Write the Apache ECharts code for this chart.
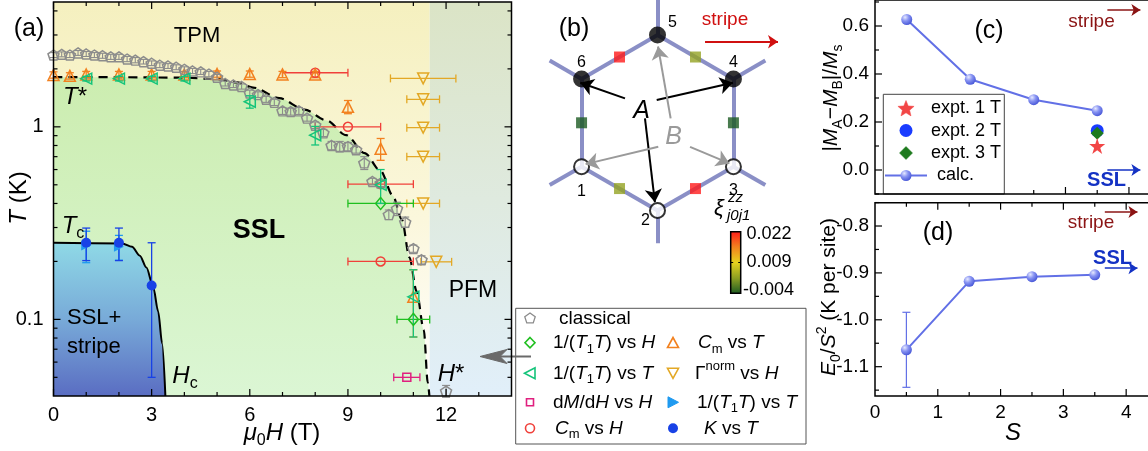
<!DOCTYPE html>
<html>
<head>
<meta charset="utf-8">
<script src="https://cdn.jsdelivr.net/npm/echarts@6/dist/echarts.min.js"></script>
<style>
html,body{margin:0;padding:0;background:#fff;}
#main{width:1148px;height:451px;}
</style>
</head>
<body>
<div id="main"></div>
<script>
// ===== (a) phase diagram: field H (T) vs temperature T (K) =====
// classical simulation, [H, T, ±T]
const classical = [
  [0,2.36,0.07],[0.25,2.38,0.07],[0.5,2.36,0.07],[0.75,2.42,0.07],[1,2.39,0.07],[1.25,2.36,0.07],
  [1.5,2.34,0.07],[1.75,2.31,0.07],[2,2.31,0.07],[2.25,2.25,0.07],[2.5,2.22,0.07],[2.75,2.18,0.06],
  [3,2.14,0.06],[3.25,2.09,0.06],[3.5,2.07,0.06],[3.75,2.04,0.06],[4,1.99,0.06],[4.25,1.95,0.06],
  [4.5,1.93,0.06],[4.75,1.88,0.06],[5,1.81,0.06],[5.25,1.68,0.05],[5.5,1.65,0.05],[5.75,1.62,0.05],
  [6,1.50,0.05],[6.25,1.47,0.05],[6.5,1.39,0.05],[6.75,1.34,0.05],[7,1.21,0.05],[7.25,1.20,0.05],
  [7.5,1.21,0.05],[7.75,1.11,0.04],[8,1.02,0.04],[8.25,0.93,0.04],[8.5,0.80,0.04],[8.75,0.79,0.05],
  [9,0.79,0.04],[9.25,0.76,0.03],[9.5,0.65,0.05],[9.75,0.52,0.02],[10,0.51,0.02],[10.25,0.35,0.02],
  [10.5,0.376,0.03],[10.75,0.32,0.02],[11,0.233,0.01],[11.25,0.204,0.01],[12,0.0424,0.003]
];
const nmrVsH   = [[10,0.40,1],[11,0.10,0.5]];                    // 1/(T1T) vs H, [H, T, ±H]
const nmrVsT   = [[1,1.78,0.05],[2,1.78,0.05],[3,1.78,0.05],[4,1.78,0.05],
                  [6,1.35,0.1],[8,0.905,0.1],[10,0.5,0.1],[11,0.131,0.05]];   // [H, T, ±T]
const dMdH     = [[10.8,0.05,0.4]];                              // [H, T, ±H]
const cmVsH    = [[8,1.91,1],[9,1.0,1],[10,0.504,1],[10,0.2,1]]; // [H, T, ±H]
const cmVsT    = [[0,1.86,0.07],[0.5,1.84,0.07],[1,1.87,0.07],[2,1.87,0.07],[3,1.87,0.07],[4,1.87,0.07],
                  [5,1.88,0.07],[6,1.88,0.07],[7,1.87,0.07],[8,1.87,0.07],[9,1.27,0.1],[10,0.77,0.1],[11,0.131,0.05]];
const gammaNorm = [[11.3,1.785,1.0],[11.3,1.39,0.5],[11.3,0.99,0.5],[11.3,0.70,0.5],[11.3,0.40,0.5],[11.7,0.199,0.47]];
const nmrLowT  = [[1,0.242,0.045],[2,0.238,0.035]];               // [H, T, ±T]
const knightT  = [[1,0.25,0.048],[2,0.25,0.048],[3,0.15,0.1]];    // [H, T, ±T]
const tStarLine = [[0,1.81],[2,1.81],[4,1.80],[5,1.77],[5.6,1.70],[6.1,1.60],[6.9,1.41],[7.67,1.23],
                   [8.34,1.08],[8.95,0.905],[9.51,0.73],[10.0,0.59],[10.37,0.44],[10.65,0.33],[10.88,0.21],
                   [11.1,0.14],[11.32,0.088],[11.44,0.047],[11.49,0.04]];
const tcLine = [[0,0.25],[2.1,0.248],[2.4,0.238],[2.64,0.214],[2.84,0.186],[3.05,0.147],[3.2,0.11],[3.32,0.075],[3.42,0.04]];
const hRange = [0, 14];
const tRange = [0.04, 4.45];
const pfmEdge = 11.5;
const aXMajor = [0,3,6,9,12], aXMinor = [1,2,4,5,7,8,10,11,13];
const aYMajor = [0.1,1], aYMinor = [0.05,0.06,0.07,0.08,0.09,0.2,0.3,0.4,0.5,0.6,0.7,0.8,0.9,2,3,4];

// ===== (b) hexagon of the lattice, sites 1..6 =====
const siteXY = [[-0.866,-0.5],[0,-1],[0.866,-0.5],[0.866,0.5],[0,1],[-0.866,0.5]];
const siteFilled = [false,false,false,true,true,true];
const siteNames = ['1','2','3','4','5','6'];
const bondPairs = [[6,5],[5,4],[4,3],[3,2],[2,1],[1,6]];
const bondXi = [0.022,0.003,-0.004,0.022,0.003,-0.004];
const xiRange = [-0.004, 0.022];
const xiTicks = [0.022, 0.009, -0.004];
const arrowsA = [[[-0.371,0.278],[-0.88,0.456]],[[-0.009,0.259],[0.86,0.456]],[[-0.143,0.05],[-0.03,-0.905]]];
const arrowsB = [[[0.15,0.05],[0.006,0.87]],[[0.009,-0.274],[-0.82,-0.471]],[[0.371,-0.274],[0.82,-0.463]]];
const stripeArrowB = [[0.542,0.924],[1.374,0.924]];

// ===== (c), (d) spin-S calculations =====
const spinS = [0.5,1.5,2.5,3.5];
const calcM = [0.627,0.378,0.293,0.247];
const expt1T = [[3.5,0.10]], expt2T = [[3.5,0.164]], expt3T = [[3.5,0.153]];
const calcE = [-1.064,-0.918,-0.908,-0.904];
const calcEErr = [0.08,0.006,0.003,0.003];
const refM = {stripe: 0.667, ssl: 0};
const refE = {stripe: -0.77, ssl: -0.89};
const refArrowS = [3.66, 4.18];
const sRange = [0, 4.3];
const mRange = [-0.1, 0.7083];
const eRange = [-1.1625, -0.7503];
const sMajor = [1,2,3,4], sMinor = [0.5,1.5,2.5,3.5];
const mMajor = [0,0.2,0.4,0.6], mMinor = [-0.1,0.1,0.3,0.5,0.7];
const eMajor = [-1.1,-1.0,-0.9,-0.8], eMinor = [-1.15,-1.05,-0.95,-0.85,-0.75];

// ---------- layout & styling ----------
const FONT = 'Arial, "Liberation Sans", Helvetica, sans-serif';
const P = {
  a: {left: 53.5, top: 2, width: 458, height: 394},
  b: {left: 517.2, top: 0, width: 280.6, height: 241.2},
  c: {left: 875, top: 0, width: 276, height: 194},
  d: {left: 875, top: 202.7, width: 276, height: 193.3}
};
const C = {
  classical: '#8c8c8c', nmrH: '#1fbf1f', nmrT: '#14c47a', dmdh: '#e0207f', cmH: '#f0403a',
  cmT: '#f2811f', gamma: '#e3a825', nmrLow: '#1f9af0', knight: '#1842e6',
  calc: '#6270e6', stripe: '#8b1414', ssl: '#1432c4', bond: '#8a8fc6'
};
const XI_COLORS = ['#1b5a22', '#8c9e22', '#e6d21e', '#f3801e', '#ff1a1a'];
const G = echarts.graphic;

function rich(fs, color) {
  const lh = Math.round(fs * 1.35), sb = Math.round(fs * 0.66);
  color = color || '#000';
  return {
    i:  {fontStyle: 'italic', fontSize: fs, fontFamily: FONT, lineHeight: lh, fill: color},
    b:  {fontWeight: 'bold', fontSize: fs, fontFamily: FONT, lineHeight: lh, fill: color},
    s:  {fontSize: sb, fontFamily: FONT, verticalAlign: 'bottom', lineHeight: sb, fill: color},
    si: {fontSize: sb, fontStyle: 'italic', fontFamily: FONT, verticalAlign: 'bottom', lineHeight: sb, fill: color},
    p:  {fontSize: sb, fontFamily: FONT, verticalAlign: 'top', lineHeight: sb, fill: color},
    pi: {fontSize: sb, fontStyle: 'italic', fontFamily: FONT, verticalAlign: 'top', lineHeight: sb, fill: color}
  };
}
function txt(x, y, text, fs, opt) {
  opt = opt || {};
  return {
    type: 'text', x: x, y: y, z: 60, rotation: opt.rot || 0, silent: true,
    style: {
      text: text, fontSize: fs, fontFamily: FONT, fill: opt.color || '#000',
      fontWeight: opt.bold ? 'bold' : 'normal', fontStyle: opt.italic ? 'italic' : 'normal',
      align: opt.align || 'center', verticalAlign: 'middle',
      lineHeight: Math.round(fs * 1.35), rich: rich(fs, opt.color)
    }
  };
}
function poly(points, stroke, fill, lw) {
  return {type: 'polygon', z: 60, silent: true, shape: {points: points},
          style: {stroke: stroke, fill: fill || 'none', lineWidth: lw || 1.5}};
}
function frame(p, z) {
  return {type: 'rect', z: z || 100, silent: true,
          shape: {x: p.left, y: p.top, width: p.width, height: p.height},
          style: {fill: 'none', stroke: '#000', lineWidth: 1.5}};
}

// ticks drawn inward from the frame on the chosen sides
function ticks(xi, yi, dir, major, minor, sides, ref) {
  const data = major.map(v => [v, 7]).concat(minor.map(v => [v, 4]));
  return {
    type: 'custom', xAxisIndex: xi, yAxisIndex: yi, silent: true, z: 20, data: data,
    renderItem: function (params, api) {
      const cs = params.coordSys, v = api.value(0), len = api.value(1), kids = [];
      const st = {stroke: '#000', lineWidth: 1.2};
      if (dir === 'x') {
        const x = api.coord([v, ref])[0];
        if (sides.indexOf('b') >= 0) kids.push({type: 'line', shape: {x1: x, y1: cs.y + cs.height, x2: x, y2: cs.y + cs.height - len}, style: st});
        if (sides.indexOf('t') >= 0) kids.push({type: 'line', shape: {x1: x, y1: cs.y, x2: x, y2: cs.y + len}, style: st});
      } else {
        const y = api.coord([ref, v])[1];
        if (sides.indexOf('l') >= 0) kids.push({type: 'line', shape: {x1: cs.x, y1: y, x2: cs.x + len, y2: y}, style: st});
        if (sides.indexOf('r') >= 0) kids.push({type: 'line', shape: {x1: cs.x + cs.width, y1: y, x2: cs.x + cs.width - len, y2: y}, style: st});
      }
      return {type: 'group', children: kids};
    }
  };
}

// error bars with end caps: mode 'h' (±x) or 'v' (±y)
function errBars(data, color, mode, xi, yi, z, lw) {
  return {
    type: 'custom', xAxisIndex: xi, yAxisIndex: yi, silent: true, z: z || 4, data: data,
    renderItem: function (params, api) {
      const x = api.value(0), y = api.value(1), e = api.value(2), cap = 4;
      const st = {stroke: color, lineWidth: lw || 1.3};
      let a, b, kids;
      if (mode === 'h') {
        a = api.coord([x - e, y]); b = api.coord([x + e, y]);
        kids = [
          {type: 'line', shape: {x1: a[0], y1: a[1], x2: b[0], y2: b[1]}, style: st},
          {type: 'line', shape: {x1: a[0], y1: a[1] - cap, x2: a[0], y2: a[1] + cap}, style: st},
          {type: 'line', shape: {x1: b[0], y1: b[1] - cap, x2: b[0], y2: b[1] + cap}, style: st}
        ];
      } else {
        a = api.coord([x, y - e]); b = api.coord([x, y + e]);
        kids = [
          {type: 'line', shape: {x1: a[0], y1: a[1], x2: b[0], y2: b[1]}, style: st},
          {type: 'line', shape: {x1: a[0] - cap, y1: a[1], x2: a[0] + cap, y2: a[1]}, style: st},
          {type: 'line', shape: {x1: b[0] - cap, y1: b[1], x2: b[0] + cap, y2: b[1]}, style: st}
        ];
      }
      return {type: 'group', children: kids};
    }
  };
}
const xy = arr => arr.map(d => [d[0], d[1]]);
function marks(data, symbol, size, stroke, fill, rot, z, xi, yi) {
  return {
    type: 'scatter', xAxisIndex: xi || 0, yAxisIndex: yi || 0, data: xy(data), symbol: symbol,
    symbolSize: size, symbolRotate: rot || 0, z: z || 5, silent: true,
    itemStyle: {color: fill || 'rgba(0,0,0,0)', borderColor: stroke, borderWidth: fill ? 0 : 1.5, opacity: 1}
  };
}
const PENTAGON = 'path://M5,0 L9.755,3.455 L7.939,9.045 L2.061,9.045 L0.245,3.455 Z';
const STAR = 'path://M50,0 L61.8,36.2 L100,36.2 L69.1,58.8 L80.9,95.1 L50,72.7 L19.1,95.1 L30.9,58.8 L0,36.2 L38.2,36.2 Z';
const sphere = () => new G.RadialGradient(0.35, 0.3, 0.75, [
  {offset: 0, color: '#e6e9ff'}, {offset: 0.45, color: '#8793f2'}, {offset: 1, color: '#4454d6'}]);

// ---------- series ----------
const series = [];
// (a) background regions
series.push({
  type: 'line', xAxisIndex: 0, yAxisIndex: 0, data: [[1, 1]], symbol: 'none', z: 1, silent: true,
  lineStyle: {opacity: 0},
  markArea: {silent: true, data: [
    [{xAxis: hRange[0], yAxis: tRange[0], itemStyle: {color: new G.LinearGradient(0, 0, 0, 1, [
        {offset: 0, color: '#f5f0bf'}, {offset: 0.55, color: '#fbf7dc'}, {offset: 1, color: '#ffffff'}])}},
     {xAxis: pfmEdge, yAxis: tRange[1]}],
    [{xAxis: pfmEdge, yAxis: tRange[0], itemStyle: {color: new G.LinearGradient(0, 0, 0, 1, [
        {offset: 0, color: '#dbe4c6'}, {offset: 0.5, color: '#dfeadf'}, {offset: 1, color: '#e1effa'}])}},
     {xAxis: hRange[1], yAxis: tRange[1]}]
  ]}
});
// SSL region bounded by T*(H), dashed
series.push({
  type: 'line', xAxisIndex: 0, yAxisIndex: 0, data: tStarLine, symbol: 'none', z: 2, silent: true,
  smooth: 0.3, smoothMonotone: 'x',
  lineStyle: {color: '#000', width: 2.2, type: [9, 6]},
  areaStyle: {origin: 'start', opacity: 1, color: new G.LinearGradient(0, 0, 0, 1, [
    {offset: 0, color: '#ccedb0'}, {offset: 1, color: '#dbf6d4'}])}
});
// SSL+stripe region bounded by Tc(H)
series.push({
  type: 'line', xAxisIndex: 0, yAxisIndex: 0, data: tcLine, symbol: 'none', z: 3, silent: true,
  smooth: 0.3, smoothMonotone: 'x',
  lineStyle: {color: '#000', width: 2},
  areaStyle: {origin: 'start', opacity: 1, color: new G.LinearGradient(0, 0, 0, 1, [
    {offset: 0, color: '#8fd9e6'}, {offset: 0.5, color: '#78aad8'}, {offset: 1, color: '#5a6dc2'}])}
});
// (a) measurements
series.push(errBars(cmVsH, C.cmH, 'h', 0, 0, 4));
series.push(marks(cmVsH, 'circle', 9, C.cmH, null, 0, 5));
series.push(errBars(cmVsT, C.cmT, 'v', 0, 0, 4));
series.push(marks(cmVsT, 'triangle', 11, C.cmT, null, 0, 5));
series.push(errBars(gammaNorm, C.gamma, 'h', 0, 0, 4));
series.push(marks(gammaNorm, 'triangle', 11, C.gamma, null, 180, 5));
series.push(errBars(dMdH, C.dmdh, 'h', 0, 0, 4));
series.push(marks(dMdH, 'rect', 8, C.dmdh, null, 0, 5));
series.push(errBars(classical, C.classical, 'v', 0, 0, 6, 1.1));
series.push(marks(classical, PENTAGON, [11, 10], C.classical, null, 0, 6));
series.push(errBars(nmrVsH, C.nmrH, 'h', 0, 0, 7));
series.push(marks(nmrVsH, 'diamond', [10, 12], C.nmrH, null, 0, 7));
series.push(errBars(nmrVsT, C.nmrT, 'v', 0, 0, 7));
series.push(marks(nmrVsT, 'triangle', 11, C.nmrT, null, 90, 7));
series.push(errBars(nmrLowT, C.nmrLow, 'v', 0, 0, 7));
series.push(errBars(knightT, C.knight, 'v', 0, 0, 7));
series.push(marks(nmrLowT, 'triangle', 10, null, C.nmrLow, -90, 8));
series.push(marks(knightT, 'circle', 10, null, C.knight, 0, 8));
series.push(ticks(0, 0, 'x', aXMajor, aXMinor, 'bt', 1));
series.push(ticks(0, 0, 'y', aYMajor, aYMinor, 'lr', 1));

// (b) lattice
const bondLines = bondPairs.map(p => ({coords: [siteXY[p[0] - 1], siteXY[p[1] - 1]]}));
const stubLines = siteXY.map(s => ({coords: [s, [s[0] * 1.42, s[1] * 1.42]]}));
series.push({
  type: 'lines', coordinateSystem: 'cartesian2d', xAxisIndex: 1, yAxisIndex: 1, z: 2, silent: true,
  data: bondLines.concat(stubLines), lineStyle: {color: C.bond, width: 4, opacity: 1}
});
series.push({
  type: 'scatter', xAxisIndex: 1, yAxisIndex: 1, z: 3, silent: true, symbol: 'rect', symbolSize: 11,
  data: bondPairs.map((p, i) => {
    const a = siteXY[p[0] - 1], b = siteXY[p[1] - 1];
    return [(a[0] + b[0]) / 2, (a[1] + b[1]) / 2, bondXi[i]];
  })
});
const XI_SERIES = series.length - 1;
series.push({
  type: 'scatter', xAxisIndex: 1, yAxisIndex: 1, z: 4, silent: true, symbol: 'circle',
  data: siteXY.map((s, i) => ({
    value: s, symbolSize: siteFilled[i] ? 17 : 15,
    itemStyle: siteFilled[i] ? {color: '#000'} : {color: '#fff', borderColor: '#000', borderWidth: 2}
  }))
});
series.push({
  type: 'lines', coordinateSystem: 'cartesian2d', xAxisIndex: 1, yAxisIndex: 1, z: 5, silent: true,
  symbol: ['none', 'arrow'], symbolSize: 13,
  data: arrowsA.map(a => ({coords: a})), lineStyle: {color: '#000', width: 2, opacity: 1}
});
series.push({
  type: 'lines', coordinateSystem: 'cartesian2d', xAxisIndex: 1, yAxisIndex: 1, z: 5, silent: true,
  symbol: ['none', 'arrow'], symbolSize: 13,
  data: arrowsB.map(a => ({coords: a})), lineStyle: {color: '#9a9a9a', width: 2, opacity: 1}
});
series.push({
  type: 'lines', coordinateSystem: 'cartesian2d', xAxisIndex: 1, yAxisIndex: 1, z: 5, silent: true,
  symbol: ['none', 'arrow'], symbolSize: 10,
  data: [{coords: stripeArrowB}], lineStyle: {color: '#d01010', width: 2, opacity: 1}
});

// (c) staggered moment
series.push({
  type: 'line', xAxisIndex: 2, yAxisIndex: 2, z: 5, silent: true, data: spinS.map((s, i) => [s, calcM[i]]),
  symbol: 'circle', symbolSize: 11, lineStyle: {color: C.calc, width: 2},
  itemStyle: {color: sphere(), borderWidth: 0}
});
series.push(marks(expt2T, 'circle', 13, null, '#1a3cff', 0, 6, 2, 2));
series.push(marks(expt3T, 'diamond', 13, null, '#1d7a1d', 0, 7, 2, 2));
series.push(marks(expt1T, STAR, 16, null, '#f24646', 0, 8, 2, 2));
function refArrow(xi, yi, y, color) {
  return {
    type: 'lines', coordinateSystem: 'cartesian2d', xAxisIndex: xi, yAxisIndex: yi, z: 5, silent: true,
    symbol: ['none', 'arrow'], symbolSize: 9,
    data: [{coords: [[refArrowS[0], y], [refArrowS[1], y]]}], lineStyle: {color: color, width: 1.6, opacity: 1}
  };
}
series.push(refArrow(2, 2, refM.stripe, C.stripe));
series.push(refArrow(2, 2, refM.ssl, C.ssl));
series.push(ticks(2, 2, 'x', sMajor, sMinor, 'b', 0));
series.push(ticks(2, 2, 'y', mMajor, mMinor, 'l', 1));

// (d) ground-state energy
series.push(errBars(spinS.map((s, i) => [s, calcE[i], calcEErr[i]]), C.calc, 'v', 3, 3, 4, 1.2));
series.push({
  type: 'line', xAxisIndex: 3, yAxisIndex: 3, z: 5, silent: true, data: spinS.map((s, i) => [s, calcE[i]]),
  symbol: 'circle', symbolSize: 11, lineStyle: {color: C.calc, width: 2},
  itemStyle: {color: sphere(), borderWidth: 0}
});
series.push(refArrow(3, 3, refE.stripe, C.stripe));
series.push(refArrow(3, 3, refE.ssl, C.ssl));
series.push(ticks(3, 3, 'x', sMajor, sMinor, 'bt', -1));
series.push(ticks(3, 3, 'y', eMajor, eMinor, 'l', 1));

// ---------- axes ----------
const lab = {fontSize: 20, fontFamily: FONT, color: '#000'};
const near = (v, list) => list.some(t => Math.abs(v - t) < 1e-6);
const hidden = (gi, min, max) => ({gridIndex: gi, type: 'value', min: min, max: max, show: false});
const xAxis = [
  {gridIndex: 0, type: 'value', min: hRange[0], max: hRange[1], interval: 3,
   axisLine: {show: false}, axisTick: {show: false}, splitLine: {show: false},
   axisLabel: Object.assign({margin: 9, formatter: v => near(v, aXMajor) ? String(v) : ''}, lab)},
  hidden(1, -1.6, 1.6),
  {gridIndex: 2, type: 'value', min: sRange[0], max: sRange[1], interval: 1,
   axisLine: {show: false}, axisTick: {show: false}, splitLine: {show: false}, axisLabel: {show: false}},
  {gridIndex: 3, type: 'value', min: sRange[0], max: sRange[1], interval: 1,
   axisLine: {show: false}, axisTick: {show: false}, splitLine: {show: false},
   axisLabel: Object.assign({margin: 7, formatter: v => near(v, [0].concat(sMajor)) ? String(v) : ''}, lab, {fontSize: 19})}
];
const yAxis = [
  {gridIndex: 0, type: 'log', logBase: 10, min: tRange[0], max: tRange[1],
   axisLine: {show: false}, axisTick: {show: false}, splitLine: {show: false}, minorTick: {show: false},
   axisLabel: Object.assign({margin: 10, formatter: v => near(v, [0.1]) ? '0.1' : (near(v, [1]) ? '1' : '')}, lab)},
  hidden(1, -1.35, 1.4),
  {gridIndex: 2, type: 'value', min: mRange[0], max: mRange[1],
   axisLine: {show: false}, axisTick: {show: false}, splitLine: {show: false},
   axisLabel: Object.assign({margin: 6, formatter: v => near(v, mMajor) ? v.toFixed(1) : ''}, lab, {fontSize: 19})},
  {gridIndex: 3, type: 'value', min: eRange[0], max: eRange[1],
   axisLine: {show: false}, axisTick: {show: false}, splitLine: {show: false},
   axisLabel: Object.assign({margin: 6, formatter: v => near(v, eMajor) ? v.toFixed(1) : ''}, lab, {fontSize: 19})}
];

// ---------- text, legends, colour bar ----------
const gfx = [frame(P.a), frame(P.c), frame(P.d)];
// panel (a) labels
gfx.push(txt(29, 29, '(a)', 25));
gfx.push(txt(197, 36, 'TPM', 22));
gfx.push(txt(75, 97, '{i|T}*', 24));
gfx.push(txt(73, 226, '{i|T}{s|c}', 24));
gfx.push(txt(259, 231, 'SSL', 27, {bold: true}));
gfx.push(txt(67, 318, 'SSL+', 22, {align: 'left'}));
gfx.push(txt(67, 347, 'stripe', 22, {align: 'left'}));
gfx.push(txt(185, 376, '{i|H}{s|c}', 24));
gfx.push(txt(451, 374, '{i|H}*', 24));
gfx.push(txt(473, 291, 'PFM', 23));
gfx.push(txt(19, 198, '{i|T} (K)', 24, {rot: Math.PI / 2}));
gfx.push(txt(282, 433, '{i|μ}{s|0}{i|H} (T)', 24));
// arrow from the legend towards H*
gfx.push(poly([[480, 356.5], [507, 349.5], [500, 356.5], [507, 363.5]], '#6a6a6a', '#6a6a6a', 1));
gfx.push({type: 'line', z: 60, silent: true, shape: {x1: 500, y1: 356.5, x2: 531, y2: 356.5}, style: {stroke: '#6a6a6a', lineWidth: 2}});
// legend of (a)
gfx.push({type: 'rect', z: 55, silent: true, shape: {x: 515.7, y: 308.3, width: 290.3, height: 135.7},
          style: {fill: '#fff', stroke: '#555', lineWidth: 1}});
const pent = (cx, cy, r) => [0, 1, 2, 3, 4].map(k => [cx + r * Math.sin(k * 2 * Math.PI / 5), cy - r * Math.cos(k * 2 * Math.PI / 5)]);
gfx.push(poly(pent(530, 318.5, 5.5), C.classical, 'none', 1.3));
gfx.push(poly([[530, 337.5], [535, 342.7], [530, 347.9], [525, 342.7]], C.nmrH, 'none', 1.6));
gfx.push(poly([[524.5, 373.3], [535, 367.8], [535, 378.8]], C.nmrT, 'none', 1.6));
gfx.push({type: 'rect', z: 60, silent: true, shape: {x: 526.5, y: 398.8, width: 7, height: 7}, style: {fill: 'none', stroke: C.dmdh, lineWidth: 1.6}});
gfx.push({type: 'circle', z: 60, silent: true, shape: {cx: 530, cy: 428.3, r: 4.5}, style: {fill: 'none', stroke: C.cmH, lineWidth: 1.6}});
gfx.push(poly([[673, 337.5], [678.5, 347.5], [667.5, 347.5]], C.cmT, 'none', 1.6));
gfx.push(poly([[667.5, 368.3], [678.5, 368.3], [673, 378.3]], C.gamma, 'none', 1.6));
gfx.push(poly([[668, 396.8], [678.5, 402.3], [668, 407.8]], C.nmrLow, C.nmrLow, 1));
gfx.push({type: 'circle', z: 60, silent: true, shape: {cx: 673, cy: 428.3, r: 5}, style: {fill: C.knight}});
gfx.push(txt(559, 318.3, 'classical', 19, {align: 'left'}));
gfx.push(txt(553, 342.7, '1/({i|T}{s|1}{i|T}) vs {i|H}', 19, {align: 'left'}));
gfx.push(txt(553, 373.3, '1/({i|T}{s|1}{i|T}) vs {i|T}', 19, {align: 'left'}));
gfx.push(txt(553, 402.3, 'd{i|M}/d{i|H} vs {i|H}', 19, {align: 'left'}));
gfx.push(txt(555, 428.3, '{i|C}{s|m} vs {i|H}', 19, {align: 'left'}));
gfx.push(txt(698, 342.7, '{i|C}{s|m} vs {i|T}', 19, {align: 'left'}));
gfx.push(txt(695, 373.3, 'Γ{p|norm} vs {i|H}', 19, {align: 'left'}));
gfx.push(txt(697, 402.3, '1/({i|T}{s|1}{i|T}) vs {i|T}', 19, {align: 'left'}));
gfx.push(txt(704, 428.3, '{i|K} vs {i|T}', 19, {align: 'left'}));
// panel (b) labels
gfx.push(txt(574, 29, '(b)', 25));
gfx.push(txt(725, 20, 'stripe', 19, {color: '#d01010'}));
gfx.push(txt(641.5, 111.5, 'A', 25, {italic: true}));
gfx.push(txt(673.5, 137, 'B', 25, {italic: true, color: '#9a9a9a'}));
const nameOffsets = [[0, 25], [-12, 10], [0, 24], [0, -16], [15, -12], [0, -16]];
siteNames.forEach((n, i) => {
  const s = siteXY[i];
  gfx.push(txt(P.b.left + (s[0] + 1.6) / 3.2 * P.b.width + nameOffsets[i][0],
               P.b.top + (1.4 - s[1]) / 2.75 * P.b.height + nameOffsets[i][1], n, 16));
});
gfx.push(txt(719, 209, 'ξ', 22, {italic: true}));
gfx.push(txt(728, 198, 'zz', 15, {italic: true, align: 'left'}));
gfx.push(txt(727, 216, 'j0j1', 15, {italic: true, align: 'left'}));
const cb = {x: 730.7, y: 231.7, w: 10, h: 61.6};
gfx.push({type: 'rect', z: 60, silent: true, shape: {x: cb.x, y: cb.y, width: cb.w, height: cb.h},
          style: {stroke: '#000', lineWidth: 1.5, fill: new G.LinearGradient(0, 1, 0, 0,
            XI_COLORS.map((c, k) => ({offset: k / (XI_COLORS.length - 1), color: c})))}});
xiTicks.forEach(v => {
  const y = cb.y + cb.h - (v - xiRange[0]) / (xiRange[1] - xiRange[0]) * cb.h;
  if (v > xiRange[0] && v < xiRange[1]) {
    gfx.push({type: 'line', z: 61, silent: true, shape: {x1: cb.x, y1: y, x2: cb.x + 2.5, y2: y}, style: {stroke: '#000', lineWidth: 1}});
    gfx.push({type: 'line', z: 61, silent: true, shape: {x1: cb.x + cb.w - 2.5, y1: y, x2: cb.x + cb.w, y2: y}, style: {stroke: '#000', lineWidth: 1}});
  }
  gfx.push(txt(v < 0 ? 743 : 746.5, Math.min(Math.max(y, cb.y + 2), cb.y + cb.h - 3), v.toFixed(3), 18, {align: 'left'}));
});
// panel (c) labels
gfx.push(txt(989, 31.5, '(c)', 25));
gfx.push(txt(1091.5, 21.5, 'stripe', 19, {color: C.stripe}));
gfx.push(txt(1106.5, 180.5, 'SSL', 20, {bold: true, color: C.ssl}));
gfx.push(txt(831, 98, '|{i|M}{s|A}−{i|M}{s|B}|/{i|M}{s|s}', 21, {rot: Math.PI / 2}));
gfx.push({type: 'rect', z: 55, silent: true, shape: {x: 883.3, y: 94.3, width: 121, height: 99.7},
          style: {fill: '#fff', stroke: '#444', lineWidth: 1}});
const starPts = r => [...Array(10)].map((_, k) => {
  const rr = k % 2 ? r * 0.45 : r, a = k * Math.PI / 5;
  return [906 + rr * Math.sin(a), 108 - rr * Math.cos(a) + 1];
});
gfx.push(poly(starPts(8.5), '#f24646', '#f24646', 0.5));
gfx.push({type: 'circle', z: 60, silent: true, shape: {cx: 906, cy: 130.5, r: 6.5}, style: {fill: '#1a3cff'}});
gfx.push(poly([[906, 146.5], [912.5, 153], [906, 159.5], [899.5, 153]], '#1d7a1d', '#1d7a1d', 0.5));
gfx.push({type: 'line', z: 60, silent: true, shape: {x1: 885, y1: 175.5, x2: 927, y2: 175.5}, style: {stroke: C.calc, lineWidth: 2}});
gfx.push({type: 'circle', z: 61, silent: true, shape: {cx: 906, cy: 175.5, r: 5.5}, style: {fill: sphere()}});
gfx.push(txt(931, 108, 'expt. 1 T', 18, {align: 'left'}));
gfx.push(txt(931, 130.7, 'expt. 2 T', 18, {align: 'left'}));
gfx.push(txt(931, 153.3, 'expt. 3 T', 18, {align: 'left'}));
gfx.push(txt(937, 175.5, 'calc.', 18, {align: 'left'}));
// panel (d) labels
gfx.push(txt(938, 233, '(d)', 25));
gfx.push(txt(1091, 223, 'stripe', 19, {color: C.stripe}));
gfx.push(txt(1112.5, 258, 'SSL', 20, {bold: true, color: C.ssl}));
gfx.push(txt(829, 297, '{i|E}{s|0}/{i|S}{p|2} (K per site)', 21, {rot: Math.PI / 2}));
gfx.push(txt(1013, 433, 'S', 24, {italic: true}));

const chart = echarts.init(document.getElementById('main'), null, {renderer: 'canvas', width: 1148, height: 451});
chart.setOption({
  animation: false,
  backgroundColor: '#fff',
  grid: [P.a, P.b, P.c, P.d].map(p => Object.assign({containLabel: false, show: false}, p)),
  xAxis: xAxis,
  yAxis: yAxis,
  visualMap: [{type: 'continuous', show: false, seriesIndex: XI_SERIES, dimension: 2,
               min: xiRange[0], max: xiRange[1], inRange: {color: XI_COLORS}}],
  series: series,
  graphic: {elements: gfx}
});
</script>
</body>
</html>
